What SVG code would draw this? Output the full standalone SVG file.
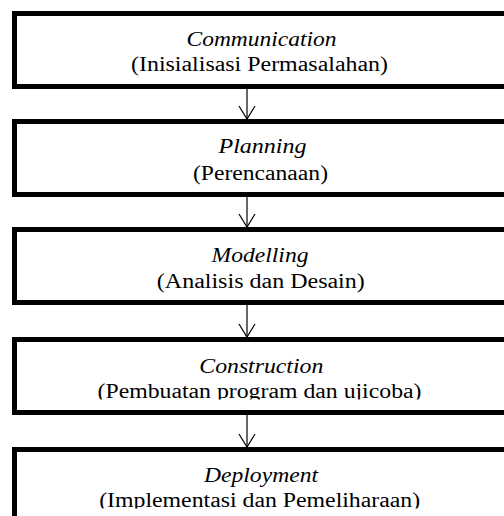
<svg xmlns="http://www.w3.org/2000/svg" width="504" height="516" viewBox="0 0 504 516">
<style>
.box{fill:#fff;stroke:#000;stroke-width:5}
.t{font-family:"Liberation Serif","Times New Roman",serif;font-size:20px;fill:#000;text-anchor:middle}
.i{font-style:italic}
.c{stroke:#000;stroke-width:1.2;fill:none}
</style>
<defs>
<marker id="v" markerUnits="userSpaceOnUse" markerWidth="20" markerHeight="20" viewBox="-15 -10 17 20" refX="0" refY="0" orient="auto">
<path d="M-13,-8 L0,0 L-13,8" fill="none" stroke="#000" stroke-width="1.2"/>
</marker>
<clipPath id="c4"><rect x="0" y="380" width="504" height="19.5"/></clipPath>
<clipPath id="c5"><rect x="0" y="488" width="504" height="20.5"/></clipPath>
</defs>
<rect width="504" height="516" fill="#fff"/>
<g id="connectors">
<line class="c" x1="247" y1="89" x2="247" y2="119" marker-end="url(#v)"/>
<line class="c" x1="247" y1="197" x2="247" y2="227" marker-end="url(#v)"/>
<line class="c" x1="247" y1="305" x2="247" y2="337" marker-end="url(#v)"/>
<line class="c" x1="247" y1="415" x2="247" y2="447" marker-end="url(#v)"/>
</g>
<g id="communication">
<rect class="box" x="14.5" y="13.5" width="492" height="73"/>
<text class="t i" x="261.5" y="46" textLength="150" lengthAdjust="spacingAndGlyphs">Communication</text>
<text class="t" x="259.5" y="71" textLength="257" lengthAdjust="spacingAndGlyphs">(Inisialisasi Permasalahan)</text>
</g>
<g id="planning">
<rect class="box" x="14.5" y="121.5" width="492" height="73"/>
<text class="t i" x="262.5" y="153" textLength="88" lengthAdjust="spacingAndGlyphs">Planning</text>
<text class="t" x="260.5" y="180" textLength="135" lengthAdjust="spacingAndGlyphs">(Perencanaan)</text>
</g>
<g id="modelling">
<rect class="box" x="14.5" y="229.5" width="492" height="73"/>
<text class="t i" x="260" y="262" textLength="97" lengthAdjust="spacingAndGlyphs">Modelling</text>
<text class="t" x="260.8" y="288" textLength="208" lengthAdjust="spacingAndGlyphs">(Analisis dan Desain)</text>
</g>
<g id="construction">
<rect class="box" x="14.5" y="339.5" width="492" height="73"/>
<text class="t i" x="261.3" y="373" textLength="124" lengthAdjust="spacingAndGlyphs">Construction</text>
<text class="t" x="259.5" y="398" textLength="324" lengthAdjust="spacingAndGlyphs" clip-path="url(#c4)">(Pembuatan program dan ujicoba)</text>
</g>
<g id="deployment">
<rect class="box" x="14.5" y="449.5" width="492" height="100"/>
<text class="t i" x="261" y="482" textLength="114" lengthAdjust="spacingAndGlyphs">Deployment</text>
<text class="t" x="259.7" y="507" textLength="321" lengthAdjust="spacingAndGlyphs" clip-path="url(#c5)">(Implementasi dan Pemeliharaan)</text>
</g>
</svg>
